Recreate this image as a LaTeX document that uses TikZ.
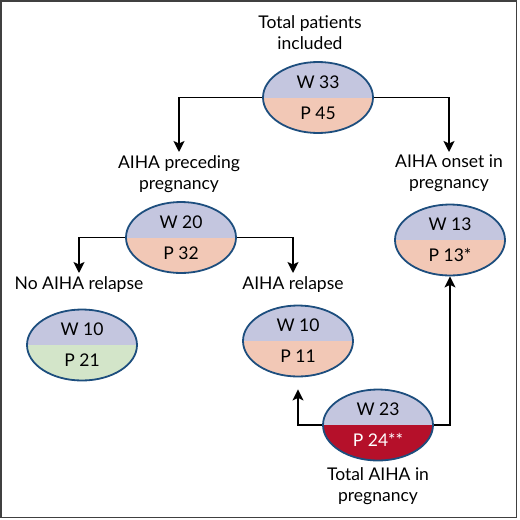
\documentclass[tikz,border=0pt]{standalone}
\usepackage{fontspec}
\setmainfont{Lato}
\usetikzlibrary{shapes.geometric,arrows.meta}
\definecolor{lav}{HTML}{C4C6DF}
\definecolor{peach}{HTML}{F2C8B6}
\definecolor{mint}{HTML}{D3E5C9}
\definecolor{crim}{HTML}{B5102A}
\definecolor{edge}{HTML}{1D4E7E}
\begin{document}
\begin{tikzpicture}[x=1pt, y=-1pt,
        cnt/.style={ellipse, draw=edge, line width=1.8pt, minimum width=110pt, minimum height=71pt,
            inner sep=0pt, align=center, font=\fontsize{17.5}{21}\selectfont,
            path picture={
                \fill[lav] (path picture bounding box.north west) rectangle (path picture bounding box.east);
                \fill[#1] (path picture bounding box.west) rectangle (path picture bounding box.south east);
            }},
        lbl/.style={align=center, inner sep=3pt, anchor=north, font=\fontsize{17.5}{21}\selectfont},
        arr/.style={-{Stealth[length=11pt, width=11pt, inset=2.5pt]}, line width=1.8pt}]
    \useasboundingbox (0,0) rectangle (520,520);
    \draw[line width=1.2pt, black!75] (1,1) rectangle (516.5,517.5);
    % counts: women / pregnancies
    \foreach \nm/\pos/\w/\p/\low in {all/{318,97.5}/33/45/peach, pre/{181,237.5}/20/32/peach,
        onset/{450,240}/13/13*/peach, none/{82,345}/10/21/mint, rel/{298,341}/10/11/peach}
        {
            \node[cnt=\low] (\nm) at (\pos) {W \w\\[10pt]P \p};
        }
    \node[cnt=crim] (tot) at (378,425) {W 23\\[10pt]\textcolor{white}{P 24**}};
    % headings
    \node[lbl] (alltxt) at (310,12) {Total patients\\included};
    \node[lbl] (pretxt) at (179,152) {AIHA preceding\\pregnancy};
    \node[lbl] (ontxt) at (449,152) {AIHA onset in\\pregnancy};
    \node[lbl] (notxt) at (79,273) {No AIHA relapse};
    \node[lbl] (reltxt) at (293,273) {AIHA relapse};
    \node[lbl] (tottxt) at (378,464) {Total AIHA in\\pregnancy};
    % connectors
    \draw[arr] (all.west) -| (pretxt.north);
    \draw[arr] (all.east) -| (ontxt.north);
    \draw[arr] (pre.west) -| (notxt.north);
    \draw[arr] (pre.east) -| (reltxt.north);
    \draw[arr] (tot.west) -| ([yshift=-12pt]rel.south);
    \draw[arr] (tot.east) -| (onset.south);
\end{tikzpicture}
\end{document}
